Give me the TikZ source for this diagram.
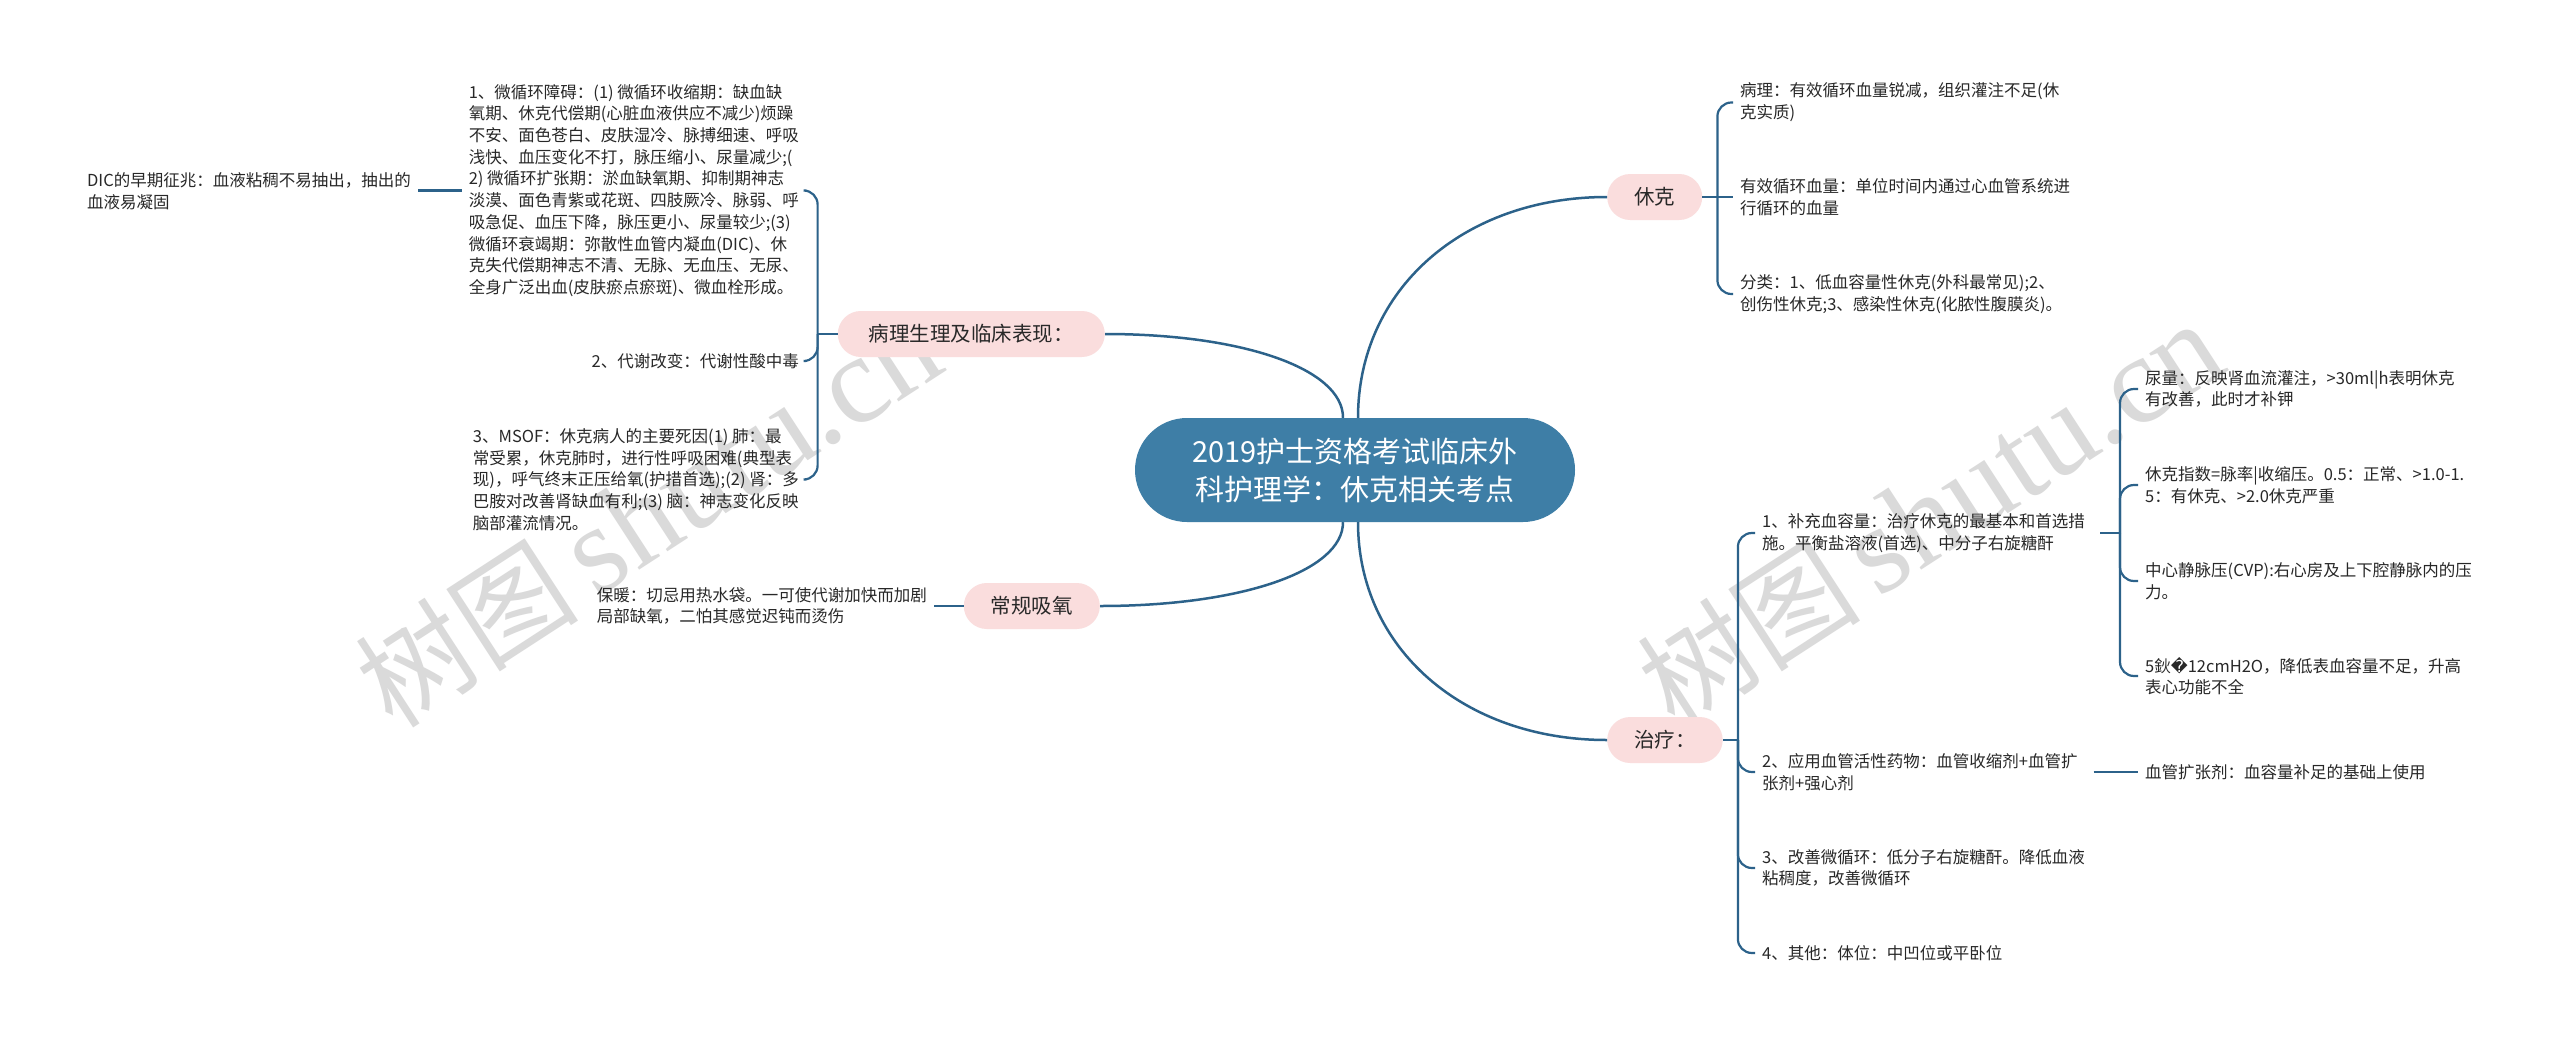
\documentclass[tikz,border=0pt]{standalone}
\usepackage{fontspec}
\setmainfont{Noto Sans CJK SC}
\newfontfamily\cjk{Noto Sans CJK SC}
\newfontfamily\djv{DejaVu Sans}
\newfontfamily\wmlat{Liberation Serif}
\usetikzlibrary{calc}
\definecolor{linec}{RGB}{44,98,138}
\definecolor{ctrfill}{RGB}{62,126,166}
\definecolor{pinkfill}{RGB}{250,221,221}
\definecolor{txtc}{RGB}{40,40,40}
\definecolor{wmc}{RGB}{218,218,218}
\tikzset{
 conn/.style={draw=linec, line width=2.5pt},
 brk/.style={draw=linec, line width=2.2pt, rounded corners=14pt},
 leaf/.style={font=\cjk\fontsize{16.5}{21.7}\selectfont, text=txtc, inner xsep=7pt, inner ysep=2pt, align=left},
 topic/.style={font=\cjk\fontsize{20.5}{24}\selectfont, text=txtc, fill=pinkfill, rounded corners=23pt, minimum height=46pt, inner xsep=27pt, inner ysep=0pt},
 root/.style={font=\cjk\fontsize{29}{38}\selectfont, text=white, fill=ctrfill, rounded corners=52pt, minimum width=440pt, minimum height=104pt, align=center},
 wm/.style={text=wmc, font=\cjk\fontsize{112}{112}\selectfont, rotate=33, inner sep=0pt},
}
\begin{document}
\begin{tikzpicture}[x=1pt,y=-1pt]
\fill[white] (0,0) rectangle (2560,1044);
\useasboundingbox (0,0) rectangle (2560,1044);

% watermarks
\node[wm] (wm1) at (648,514) {树图\,{\wmlat\fontsize{125}{125}\selectfont shutu.cn}};
\node[wm] (wm2) at (1930,514) {树图\,{\wmlat\fontsize{125}{125}\selectfont shutu.cn}};

% root and topics
\node[root] (ctr) at (1355,470) {2019护士资格考试临床外\\科护理学：休克相关考点};
\node[topic, anchor=west] (xk) at (1607,197) {休克};
\node[topic, anchor=west] (zl) at (1607,740) {治疗：};
\node[topic, anchor=east, minimum width=267pt] (bl) at (1105,334) {病理生理及临床表现：};
\node[topic, anchor=east] (cg) at (1100,606) {常规吸氧};

% right: 休克 leaves
\node[leaf, anchor=west] (xk1) at (1733,102.5) {病理：有效循环血量锐减，组织灌注不足(休\\克实质)};
\node[leaf, anchor=west] (xk2) at (1733,197) {有效循环血量：单位时间内通过心血管系统进\\行循环的血量};
\node[leaf, anchor=west] (xk3) at (1733,294) {分类：1、低血容量性休克(外科最常见);2、\\创伤性休克;3、感染性休克(化脓性腹膜炎)。};

% right: 治疗 leaves
\node[leaf, anchor=west] (zl1) at (1755,533) {1、补充血容量：治疗休克的最基本和首选措\\施。平衡盐溶液(首选)、中分子右旋糖酐};
\node[leaf, anchor=west] (zl2) at (1755,772) {2、应用血管活性药物：血管收缩剂+血管扩\\张剂+强心剂};
\node[leaf, anchor=west] (zl3) at (1755,868) {3、改善微循环：低分子右旋糖酐。降低血液\\粘稠度，改善微循环};
\node[leaf, anchor=west] (zl4) at (1755,953) {4、其他：体位：中凹位或平卧位};

\node[leaf, anchor=west] (s1) at (2138,389) {尿量：反映肾血流灌注，>30ml|h表明休克\\有改善，此时才补钾};
\node[leaf, anchor=west] (s2) at (2138,485) {休克指数=脉率|收缩压。0.5：正常、>1.0-1.\\5：有休克、>2.0休克严重};
\node[leaf, anchor=west] (s3) at (2138,581) {中心静脉压(CVP):右心房及上下腔静脉内的压\\力。};
\node[leaf, anchor=west] (s4) at (2138,676) {5鈥{\djv �}12cmH2O，降低表血容量不足，升高\\表心功能不全};
\node[leaf, anchor=west] (s5) at (2138,772) {血管扩张剂：血容量补足的基础上使用};

% left leaves
\node[leaf, anchor=east] (L1) at (806,190.5) {1、微循环障碍：(1) 微循环收缩期：缺血缺\\氧期、休克代偿期(心脏血液供应不减少)烦躁\\不安、面色苍白、皮肤湿冷、脉搏细速、呼吸\\浅快、血压变化不打，脉压缩小、尿量减少;(\\2) 微循环扩张期：淤血缺氧期、抑制期神志\\淡漠、面色青紫或花斑、四肢厥冷、脉弱、呼\\吸急促、血压下降，脉压更小、尿量较少;(3)\\微循环衰竭期：弥散性血管内凝血(DIC)、休\\克失代偿期神志不清、无脉、无血压、无尿、\\全身广泛出血(皮肤瘀点瘀斑)、微血栓形成。};
\node[leaf, anchor=east] (L2) at (806,361) {2、代谢改变：代谢性酸中毒};
\node[leaf, anchor=east] (L3) at (806,479.5) {3、MSOF：休克病人的主要死因(1) 肺：最\\常受累，休克肺时，进行性呼吸困难(典型表\\现)，呼气终末正压给氧(护措首选);(2) 肾：多\\巴胺对改善肾缺血有利;(3) 脑：神志变化反映\\脑部灌流情况。};
\node[leaf, anchor=east] (dic) at (418,191) {DIC的早期征兆：血液粘稠不易抽出，抽出的\\血液易凝固};
\node[leaf, anchor=east] (bw) at (934,606) {保暖：切忌用热水袋。一可使代谢加快而加剧\\局部缺氧，二怕其感觉迟钝而烫伤};

% junctions
\coordinate (jxk) at ($(xk.east)+(15,0)$);
\coordinate (jzl) at ($(zl.east)+(15,0)$);
\coordinate (jbl) at ($(bl.west)+(-20,0)$);
\coordinate (jz1) at (2120,533);

% root connectors
\draw[conn] ($(ctr.north)+(3,0)$) .. controls +(0,-128) and +(-144,0) .. (xk.west);
\draw[conn] ($(ctr.north)+(-12,0)$) .. controls +(0,-49) and +(138,0) .. (bl.east);
\draw[conn] ($(ctr.south)+(3,0)$) .. controls +(0,126) and +(-144,0) .. (zl.west);
\draw[conn] ($(ctr.south)+(-12,0)$) .. controls +(0,49) and +(141,0) .. (cg.east);

% 休克 bracket
\draw[brk] (xk.east) -- (jxk);
\draw[brk] (jxk) |- (xk1.west);
\draw[brk] (jxk) -- (xk2.west);
\draw[brk] (jxk) |- (xk3.west);

% 治疗 bracket
\draw[brk] (zl.east) -- (jzl);
\draw[brk] (jzl) |- (zl1.west);
\draw[brk] (jzl) |- (zl2.west);
\draw[brk] (jzl) |- (zl3.west);
\draw[brk] (jzl) |- (zl4.west);

% 补充血容量 bracket
\draw[brk] ($(zl1.east)+(8,0)$) -- (jz1);
\draw[brk] (jz1) |- (s1.west);
\draw[brk] (jz1) |- (s2.west);
\draw[brk] (jz1) |- (s3.west);
\draw[brk] (jz1) |- (s4.west);
\draw[brk] ($(zl2.east)+(9,0)$) -- (s5.west);

% left bracket
\draw[brk] (bl.west) -- (jbl);
\draw[brk] (jbl) |- (L1.east);
\draw[brk] (jbl) |- (L2.east);
\draw[brk] (jbl) |- (L3.east);
\draw[brk] (L1.west) -- (L1.west -| dic.east);

% 常规吸氧
\draw[brk] (cg.west) -- (cg.west -| bw.east);
\end{tikzpicture}
\end{document}
